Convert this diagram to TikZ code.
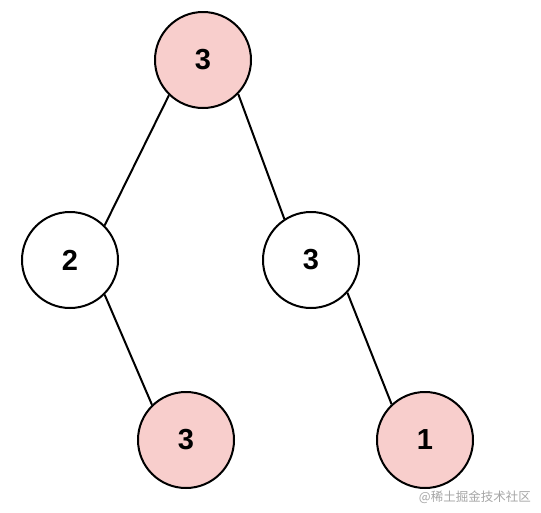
\documentclass[tikz,border=0pt]{standalone}
\usepackage{fontspec}
\setmainfont{Liberation Sans}
\newfontfamily\cjk{Noto Sans CJK SC}
\definecolor{pinkfill}{HTML}{F8CECC}
\begin{document}
\begin{tikzpicture}[x=1pt,y=-1pt,
  tnode/.style={circle,draw=black,line width=2pt,minimum size=96pt,inner sep=0pt,
    font=\fontsize{29}{29}\selectfont\bfseries},
  hl/.style={tnode,fill=pinkfill},
  plain/.style={tnode,fill=white},
  edge/.style={line width=2pt,draw=black}]
\useasboundingbox (0,0) rectangle (541,512);
\fill[white] (0,0) rectangle (541,512);
\node[hl] (r) at (203,60) {3};
\node[plain] (l) at (70,260) {2};
\node[plain] (m) at (311,260) {3};
\node[hl] (lb) at (186,440) {3};
\node[hl] (mb) at (425,440) {1};
\draw[edge] (r.-134) -- (l.45);
\draw[edge] (r.-44) -- (m.123);
\draw[edge] (l.-45) -- (lb.134);
\draw[edge] (m.-42) -- (mb.133);
\node[anchor=east,text=black!35,font=\cjk\fontsize{12.5}{13}\selectfont,inner sep=0pt] (wm) at (531,497) {@稀土掘金技术社区};
\end{tikzpicture}
\end{document}
